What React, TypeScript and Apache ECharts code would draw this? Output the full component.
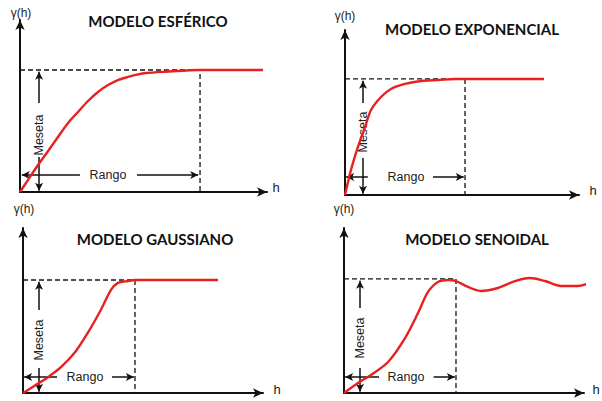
import React, { useEffect, useRef } from "react";
import * as echarts from "echarts";

// Model curves: h in units of the range, γ in units of the sill
const esfericoH = [0, 0.044, 0.1, 0.156, 0.211, 0.267, 0.322, 0.378, 0.433, 0.489, 0.544, 0.6, 0.656, 0.7, 0.8, 0.9, 0.989, 1.35];
const esfericoG = [0, 0.098, 0.221, 0.336, 0.451, 0.566, 0.656, 0.746, 0.82, 0.877, 0.918, 0.943, 0.964, 0.975, 0.986, 0.994, 1.0, 1.0];

const exponencialH = [0, 0.05, 0.108, 0.167, 0.217, 0.3, 0.383, 0.5, 0.633, 0.775, 0.917, 1.658];
const exponencialG = [0, 0.216, 0.414, 0.586, 0.733, 0.845, 0.914, 0.957, 0.983, 0.991, 1.0, 1.0];

const gaussianoH = [0, 0.104, 0.223, 0.339, 0.464, 0.58, 0.696, 0.786, 0.848, 0.938, 1.0, 1.741];
const gaussianoG = [0, 0.064, 0.14, 0.228, 0.36, 0.535, 0.737, 0.912, 0.974, 0.991, 1.0, 1.0];

const senoidalH = [0, 0.125, 0.241, 0.393, 0.545, 0.661, 0.75, 0.839, 0.929, 1.0, 1.107, 1.223, 1.375, 1.527, 1.661, 1.795, 1.938, 2.089, 2.223];
const senoidalG = [0, 0.088, 0.158, 0.272, 0.482, 0.702, 0.886, 0.974, 0.991, 0.982, 0.93, 0.895, 0.921, 0.982, 1.009, 0.982, 0.939, 0.939, 0.974];

const titles = ["MODELO ESFÉRICO", "MODELO EXPONENCIAL", "MODELO GAUSSIANO", "MODELO SENOIDAL"];
const SILL = 1;
const RANGE = 1;

const RED = "#e8211f";
const INK = "#111";
const FONT = "'Liberation Sans', Arial, sans-serif";
const TITLE_FONT = "Lato, 'Open Sans', sans-serif";

type Panel = {
  title: string;
  h: number[];
  g: number[];
  grid: { left: number; top: number; width: number; height: number };
  xMax: number;
  yMax: number;
  mesetaX: number;
  mesetaUp: [number, number];
  mesetaDown: number;
  rangoY: number;
  rangoLeft: number;
  rangoRight: number;
  titlePos: [number, number];
  gammaPos: [number, number];
  hPos: [number, number];
  mesetaTextPos: [number, number];
  rangoTextPos: [number, number];
};

const panels: Panel[] = [
  {
    title: titles[0], h: esfericoH, g: esfericoG,
    grid: { left: 20, top: 20, width: 247, height: 172 }, xMax: 1.372, yMax: 1.41,
    mesetaX: 0.106, mesetaUp: [0.73, 0.985], mesetaDown: 0.287,
    rangoY: 0.139, rangoLeft: 0.333, rangoRight: 0.65,
    titlePos: [158, 21], gammaPos: [21, 13], hPos: [276, 187],
    mesetaTextPos: [39, 135], rangoTextPos: [108, 175],
  },
  {
    title: titles[1], h: exponencialH, g: exponencialG,
    grid: { left: 345, top: 30, width: 234, height: 165 }, xMax: 1.95, yMax: 1.422,
    mesetaX: 0.15, mesetaUp: [0.793, 0.985], mesetaDown: 0.319,
    rangoY: 0.155, rangoLeft: 0.19, rangoRight: 0.733,
    titlePos: [472, 29], gammaPos: [345, 16], hPos: [593, 190],
    mesetaTextPos: [363, 132], rangoTextPos: [406, 177],
  },
  {
    title: titles[2], h: gaussianoH, g: gaussianoG,
    grid: { left: 23, top: 228, width: 240, height: 165 }, xMax: 2.143, yMax: 1.46,
    mesetaX: 0.143, mesetaUp: [0.735, 0.985], mesetaDown: 0.221,
    rangoY: 0.142, rangoLeft: 0.304, rangoRight: 0.795,
    titlePos: [155, 239], gammaPos: [24, 209], hPos: [277, 389],
    mesetaTextPos: [39, 340], rangoTextPos: [85, 377],
  },
  {
    title: titles[3], h: senoidalH, g: senoidalG,
    grid: { left: 344, top: 228, width: 240, height: 165 }, xMax: 2.143, yMax: 1.447,
    mesetaX: 0.143, mesetaUp: [0.746, 0.985], mesetaDown: 0.219,
    rangoY: 0.14, rangoLeft: 0.3125, rangoRight: 0.8,
    titlePos: [477, 239], gammaPos: [344, 209], hPos: [596, 389],
    mesetaTextPos: [360, 338], rangoTextPos: [406, 377],
  },
];

export default function App() {
  const ref = useRef<HTMLDivElement>(null);

  useEffect(() => {
    if (!ref.current) return;
    const chart = echarts.init(ref.current, null, { renderer: "svg" });

    const grids: any[] = [];
    const xAxes: any[] = [];
    const yAxes: any[] = [];
    const series: any[] = [];
    const graphics: any[] = [];

    const axisCommon = {
      axisLine: {
        show: true,
        onZero: false,
        symbol: ["none", "arrow"],
        symbolSize: [7, 10],
        lineStyle: { color: INK, width: 2 },
      },
      axisTick: { show: false },
      axisLabel: { show: false },
      splitLine: { show: false },
    };

    panels.forEach((p, i) => {
      grids.push({ ...p.grid, containLabel: false });
      xAxes.push({ type: "value", gridIndex: i, min: 0, max: p.xMax, ...axisCommon });
      yAxes.push({ type: "value", gridIndex: i, min: 0, max: p.yMax, ...axisCommon });

      const arrow = (a: [number, number], b: [number, number]) => [
        { coord: a, symbol: "none" },
        { coord: b, symbol: "arrow" },
      ];

      series.push({
        type: "line",
        xAxisIndex: i,
        yAxisIndex: i,
        data: [[0, SILL], [RANGE, SILL], [RANGE, 0]],
        showSymbol: false,
        silent: true,
        z: 2,
        lineStyle: { color: INK, width: 1.3, type: [5, 3] },
        markLine: {
          silent: true,
          symbol: ["none", "arrow"],
          symbolSize: [6, 8],
          lineStyle: { color: INK, width: 1.5, type: "solid" },
          label: { show: false },
          data: [
            arrow([p.mesetaX, p.mesetaUp[0]], [p.mesetaX, p.mesetaUp[1]]),
            arrow([p.mesetaX, p.mesetaDown], [p.mesetaX, 0.01]),
            arrow([p.rangoLeft, p.rangoY], [0.01, p.rangoY]),
            arrow([p.rangoRight, p.rangoY], [RANGE - 0.01, p.rangoY]),
          ],
        },
      });

      series.push({
        type: "line",
        xAxisIndex: i,
        yAxisIndex: i,
        data: p.h.map((h, k) => [h, p.g[k]]),
        smooth: 0.3,
        clip: false,
        showSymbol: false,
        silent: true,
        z: 5,
        lineStyle: { color: RED, width: 2.4 },
      });

      graphics.push(
        {
          type: "text", x: p.titlePos[0], y: p.titlePos[1],
          style: { text: p.title, fill: "#111", font: `bold 15px ${TITLE_FONT}`, align: "center", verticalAlign: "middle" },
        },
        {
          type: "text", x: p.gammaPos[0], y: p.gammaPos[1],
          style: { text: "γ(h)", fill: "#222", font: `12px ${FONT}`, align: "center", verticalAlign: "middle" },
        },
        {
          type: "text", x: p.hPos[0], y: p.hPos[1],
          style: { text: "h", fill: "#222", font: `13px ${FONT}`, align: "center", verticalAlign: "middle" },
        },
        {
          type: "text", x: p.mesetaTextPos[0], y: p.mesetaTextPos[1], rotation: Math.PI / 2,
          style: { text: "Meseta", fill: "#222", font: `12.5px ${FONT}`, align: "center", verticalAlign: "middle" },
        },
        {
          type: "text", x: p.rangoTextPos[0], y: p.rangoTextPos[1],
          style: { text: "Rango", fill: "#222", font: `12.5px ${FONT}`, align: "center", verticalAlign: "middle" },
        }
      );
    });

    chart.setOption({
      animation: false,
      backgroundColor: "#fff",
      grid: grids,
      xAxis: xAxes,
      yAxis: yAxes,
      series,
      graphic: graphics,
    });

    return () => chart.dispose();
  }, []);

  return (
    <div
      ref={ref}
      style={{ position: "fixed", left: 0, top: 0, width: 602, height: 401, background: "#fff" }}
    />
  );
}
